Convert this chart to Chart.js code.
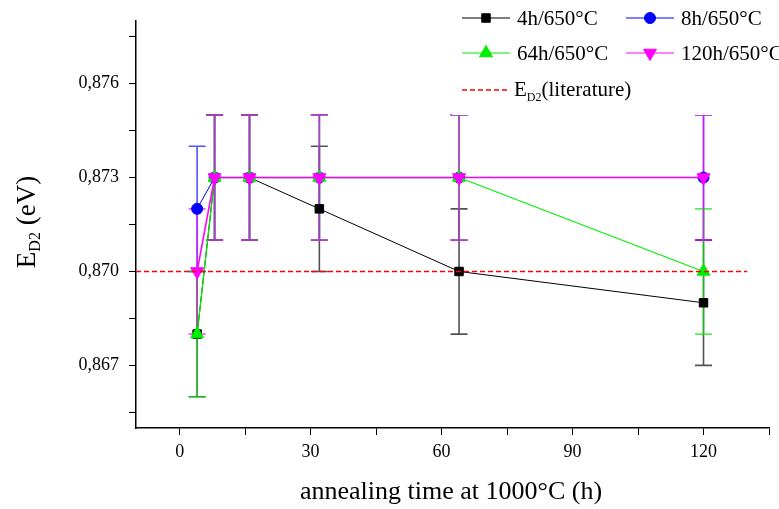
<!DOCTYPE html>
<html lang="en">
<head>
<meta charset="UTF-8">
<title>E_D2 vs annealing time at 1000°C</title>
<script src="https://cdn.jsdelivr.net/npm/chart.js@4"></script>
<style>
  html, body { margin: 0; padding: 0; background: #fff; }
  #wrap { width: 779px; height: 509px; }
</style>
</head>
<body>
<div id="wrap"><canvas id="chart"></canvas></div>
<script>
// annealing times at 1000°C (h)
const times = [4, 8, 16, 32, 64, 120];

// E_D2 (eV) after the annealing at 650°C
const e4h   = [0.868, 0.873, 0.873, 0.872, 0.870, 0.869];
const e8h   = [0.872, 0.873, 0.873, 0.873, 0.873, 0.873];
const e64h  = [0.868, 0.873, 0.873, 0.873, 0.873, 0.870];
const e120h = [0.870, 0.873, 0.873, 0.873, 0.873, 0.873];

// error bars (+/- eV)
const err4h   = [0.002, 0.002, 0.002, 0.002, 0.002, 0.002];
const err8h   = [0.002, 0.002, 0.002, 0.002, 0.002, 0.002];
const err64h  = [0.002, 0.002, 0.002, 0.002, 0.002, 0.002];
const err120h = [0.002, 0.002, 0.002, 0.002, 0.002, 0.002];

// literature value and the x span of its line
const literature = 0.870;
const literatureSpan = [-10, 130];

const xTicksMajor = [0, 30, 60, 90, 120];
const xTicksMinor = [15, 45, 75, 105, 135];
const yTicksMajor = [0.867, 0.870, 0.873, 0.876];
const yTicksMinor = [0.8655, 0.8685, 0.8715, 0.8745, 0.8775];

const serif = "'Liberation Serif', 'Times New Roman', serif";

function pts(ys, errs) {
    return times.map((t, i) => ({ x: t, y: ys[i], err: errs[i] }));
}

const series = [
    { label: '4h/650°C',   data: pts(e4h, err4h),     color: '#000000', style: 'rect',     radius: 6,   rot: 0,   width: 1,   order: 4 },
    { label: '8h/650°C',   data: pts(e8h, err8h),     color: '#0000ff', style: 'circle',   radius: 5.5, rot: 0,   width: 1,   order: 3 },
    { label: '64h/650°C',  data: pts(e64h, err64h),   color: '#00ee00', style: 'triangle', radius: 7.5, rot: 0,   width: 1.2, order: 2 },
    { label: '120h/650°C', data: pts(e120h, err120h), color: '#ff00ff', style: 'triangle', radius: 7.5, rot: 180, width: 1.6, order: 1 }
];

const datasets = series.map(s => ({
    label: s.label,
    data: s.data,
    borderColor: s.color,
    backgroundColor: s.color,
    borderWidth: s.width,
    pointStyle: s.style,
    pointRadius: s.radius,
    pointRotation: s.rot,
    pointBorderWidth: 1,
    pointBorderColor: s.color,
    pointBackgroundColor: s.color,
    order: s.order,
    tension: 0
}));

datasets.push({
    label: 'E_D2(literature)',
    data: literatureSpan.map(x => ({ x: x, y: literature })),
    borderColor: 'rgb(255, 0, 0)',
    backgroundColor: 'rgb(255, 0, 0)',
    borderWidth: 1.5,
    borderDash: [5, 3],
    pointRadius: 0,
    order: 0
});

function isIn(list, v) {
    return list.some(t => Math.abs(t - v) < 1e-7);
}

// error bars, drawn under the lines and markers
const errorBars = {
    id: 'errorBars',
    beforeDatasetsDraw(chart) {
        const ctx = chart.ctx;
        const x = chart.scales.x, y = chart.scales.y;
        ctx.save();
        ctx.globalAlpha = 0.68;
        ctx.lineWidth = 1.6;
        series.forEach(s => {
            ctx.strokeStyle = s.color;
            s.data.forEach(p => {
                const px = x.getPixelForValue(p.x);
                const top = y.getPixelForValue(p.y + p.err);
                const bot = y.getPixelForValue(p.y - p.err);
                ctx.beginPath();
                ctx.moveTo(px, top); ctx.lineTo(px, bot);
                ctx.moveTo(px - 8.5, top); ctx.lineTo(px + 8.5, top);
                ctx.moveTo(px - 8.5, bot); ctx.lineTo(px + 8.5, bot);
                ctx.stroke();
            });
        });
        ctx.restore();
    }
};

function drawMarker(ctx, s, cx, cy) {
    Chart.helpers.drawPoint(ctx, {
        pointStyle: s.style, radius: s.radius, rotation: s.rot, borderWidth: 1
    }, cx, cy);
}

// legend (with its white box) and axis titles with subscripts
const decorations = {
    id: 'decorations',
    afterDraw(chart) {
        const ctx = chart.ctx;
        ctx.save();

        ctx.fillStyle = '#fff';
        ctx.fillRect(452, 0, 327, 115);

        const rows = [
            { s: series[0], x: 462, y: 18 },
            { s: series[1], x: 626, y: 18 },
            { s: series[2], x: 462, y: 53 },
            { s: series[3], x: 626, y: 53 }
        ];
        ctx.textBaseline = 'middle';
        rows.forEach(r => {
            ctx.strokeStyle = r.s.color;
            ctx.fillStyle = r.s.color;
            ctx.lineWidth = 1;
            ctx.beginPath();
            ctx.moveTo(r.x, r.y); ctx.lineTo(r.x + 48, r.y);
            ctx.stroke();
            drawMarker(ctx, r.s, r.x + 24, r.y);
            ctx.fillStyle = '#000';
            ctx.font = '21px ' + serif;
            ctx.fillText(r.s.label, r.x + 55, r.y + 1);
        });

        // literature entry
        ctx.strokeStyle = '#ff0000';
        ctx.lineWidth = 1.5;
        ctx.setLineDash([5, 3]);
        ctx.beginPath();
        ctx.moveTo(462, 90); ctx.lineTo(508, 90);
        ctx.stroke();
        ctx.setLineDash([]);
        ctx.fillStyle = '#000';
        ctx.font = '21px ' + serif;
        ctx.fillText('E', 514, 90);
        let w = ctx.measureText('E').width;
        ctx.font = '12px ' + serif;
        ctx.fillText('D2', 514 + w, 98);
        let w2 = ctx.measureText('D2').width;
        ctx.font = '21px ' + serif;
        ctx.fillText('(literature)', 514 + w + w2, 90);

        // x title
        ctx.textAlign = 'center';
        ctx.font = '26px ' + serif;
        ctx.fillText('annealing time at 1000°C (h)', 451, 492);

        // y title, rotated
        ctx.translate(28, 222);
        ctx.rotate(-Math.PI / 2);
        ctx.textAlign = 'left';
        ctx.font = '27px ' + serif;
        const a = ctx.measureText('E').width;
        ctx.font = '16px ' + serif;
        const b = ctx.measureText('D2').width;
        ctx.font = '27px ' + serif;
        const c = ctx.measureText(' (eV)').width;
        let start = -(a + b + c) / 2;
        ctx.fillText('E', start, 0);
        ctx.font = '16px ' + serif;
        ctx.fillText('D2', start + a, 8);
        ctx.font = '27px ' + serif;
        ctx.fillText(' (eV)', start + a + b, 0);

        ctx.restore();
    }
};

new Chart(document.getElementById('chart'), {
    type: 'line',
    data: { datasets: datasets },
    options: {
        responsive: true,
        maintainAspectRatio: false,
        animation: false,
        layout: { padding: { top: 21, right: 10, left: 0, bottom: 0 } },
        plugins: {
            legend: { display: false },
            tooltip: { enabled: false }
        },
        scales: {
            x: {
                type: 'linear',
                min: -10,
                max: 135,
                afterBuildTicks: s => {
                    s.ticks = xTicksMajor.concat(xTicksMinor).sort((p, q) => p - q).map(v => ({ value: v }));
                },
                afterFit: s => { s.height = 81; },
                ticks: {
                    autoSkip: false,
                    maxRotation: 0,
                    padding: 6,
                    color: '#000',
                    font: { family: serif, size: 18 },
                    callback: v => isIn(xTicksMajor, v) ? String(v) : ''
                },
                grid: { drawOnChartArea: false, tickLength: 7, color: '#000', lineWidth: 1 },
                border: { color: '#000', width: 1.5 }
            },
            y: {
                type: 'linear',
                min: 0.865,
                max: 0.878,
                afterBuildTicks: s => {
                    s.ticks = yTicksMajor.concat(yTicksMinor).sort((p, q) => p - q).map(v => ({ value: v }));
                },
                afterFit: s => { s.width = 136; },
                ticks: {
                    autoSkip: false,
                    padding: 10,
                    color: '#000',
                    font: { family: serif, size: 18 },
                    callback: v => isIn(yTicksMajor, v) ? v.toFixed(3).replace('.', ',') : ''
                },
                grid: { drawOnChartArea: false, tickLength: 7, color: '#000', lineWidth: 1 },
                border: { color: '#000', width: 1.5 }
            }
        }
    },
    plugins: [errorBars, decorations]
});
</script>
</body>
</html>
